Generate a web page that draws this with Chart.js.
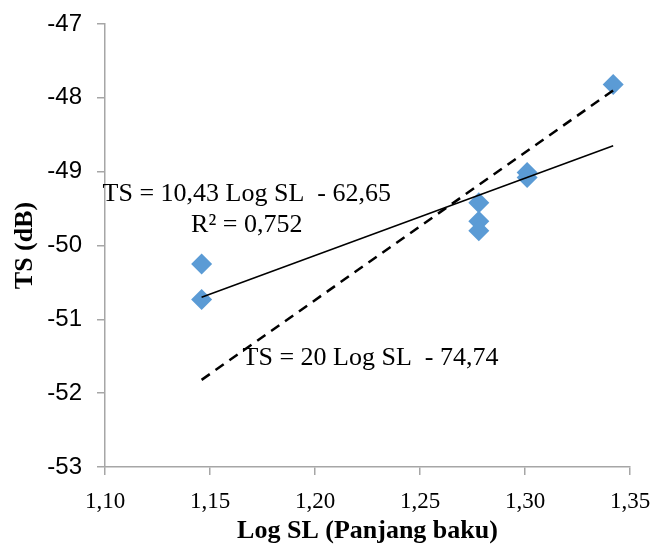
<!DOCTYPE html>
<html>
<head>
<meta charset="utf-8">
<script src="https://cdn.jsdelivr.net/npm/chart.js@4.4.0/dist/chart.umd.min.js"></script>
<style>
  html, body { margin: 0; padding: 0; background: #fff; }
  #wrap { width: 654px; height: 544px; }
</style>
</head>
<body>
<div id="wrap"><canvas id="myChart" width="654" height="544"></canvas></div>
<script>
// measured points
var logSL = [1.146, 1.146, 1.278, 1.278, 1.278, 1.301, 1.301, 1.342];
var tsValues = [-50.25, -50.73, -49.42, -49.67, -49.80, -49.01, -49.08, -47.82];

// trend lines (end points)
var fitX = [1.146, 1.342];
var fitY = [-50.70, -48.65];
var refX = [1.146, 1.342];
var refY = [-51.82, -47.90];

var xTicks = [1.10, 1.15, 1.20, 1.25, 1.30, 1.35];
var yTicks = [-53, -52, -51, -50, -49, -48, -47];

var labelFit = 'TS = 10,43 Log SL  - 62,65';
var labelR2 = 'R² = 0,752';
var labelRef = 'TS = 20 Log SL  - 74,74';

function toPts(xs, ys) {
  return xs.map(function (x, i) { return { x: x, y: ys[i] }; });
}

var axisGray = '#a6a6a6';

// equation texts
var eqPlugin = {
  id: 'eqText',
  afterDatasetsDraw: function (chart) {
    var c = chart.ctx;
    var xs = chart.scales.x, ys = chart.scales.y;
    c.save();
    c.fillStyle = '#000';
    c.font = '26px "Liberation Serif"';
    c.textBaseline = 'middle';
    c.textAlign = 'center';
    c.fillText(labelFit, xs.getPixelForValue(1.1675), ys.getPixelForValue(-49.31));
    c.fillText(labelR2, xs.getPixelForValue(1.1675), ys.getPixelForValue(-49.72));
    c.textAlign = 'left';
    c.fillText(labelRef, xs.getPixelForValue(1.1655), ys.getPixelForValue(-51.53));
    c.restore();
  }
};

var ctx = document.getElementById('myChart').getContext('2d');
var myChart = new Chart(ctx, {
  type: 'scatter',
  data: {
    datasets: [{
      label: 'fit',
      type: 'line',
      data: toPts(fitX, fitY),
      borderColor: '#000',
      borderWidth: 1.5,
      pointRadius: 0,
      fill: false,
      order: 1
    }, {
      label: 'ref',
      type: 'line',
      data: toPts(refX, refY),
      borderColor: '#000',
      borderWidth: 2.5,
      borderDash: [10, 7],
      pointRadius: 0,
      fill: false,
      order: 2
    }, {
      label: 'TS',
      data: toPts(logSL, tsValues),
      pointStyle: 'rectRot',
      pointRadius: 10.5,
      pointHoverRadius: 10.5,
      backgroundColor: '#5b9bd5',
      borderColor: '#5b9bd5',
      borderWidth: 0,
      order: 3
    }]
  },
  options: {
    responsive: false,
    animation: false,
    events: [],
    layout: { padding: { top: 24, right: 24, left: 0, bottom: 0 } },
    plugins: { legend: { display: false }, tooltip: { enabled: false } },
    scales: {
      x: {
        type: 'linear',
        min: 1.10,
        max: 1.35,
        afterBuildTicks: function (s) { s.ticks = xTicks.map(function (v) { return { value: v }; }); },
        afterFit: function (s) { s.height = 77; s.paddingLeft = 0; s.paddingRight = 0; },
        border: { color: axisGray, width: 1.5 },
        grid: { drawOnChartArea: false, drawTicks: true, tickLength: 8, color: axisGray, lineWidth: 1.5 },
        ticks: {
          padding: 13,
          color: '#000',
          font: { family: 'Liberation Serif', size: 23 },
          callback: function (v) { return v.toFixed(2).replace('.', ','); }
        },
        title: {
          display: true,
          text: 'Log SL (Panjang baku)',
          color: '#000',
          font: { family: 'Liberation Serif', size: 26, weight: 'bold', lineHeight: 1 },
          padding: { top: 0, bottom: 0 }
        }
      },
      y: {
        type: 'linear',
        min: -53,
        max: -47,
        afterBuildTicks: function (s) { s.ticks = yTicks.map(function (v) { return { value: v }; }); },
        afterFit: function (s) { s.width = 105; s.paddingTop = 0; s.paddingBottom = 0; },
        border: { color: axisGray, width: 1.5 },
        grid: { drawOnChartArea: false, drawTicks: true, tickLength: 8, color: axisGray, lineWidth: 1.5 },
        ticks: {
          padding: 15,
          color: '#000',
          font: { family: 'Liberation Sans', size: 24 },
          callback: function (v) { return String(v); }
        },
        title: {
          display: true,
          text: 'TS (dB)',
          color: '#000',
          font: { family: 'Liberation Serif', size: 26, weight: 'bold', lineHeight: 1 },
          padding: { top: 12, bottom: 0 }
        }
      }
    }
  },
  plugins: [eqPlugin]
});
</script>
</body>
</html>
